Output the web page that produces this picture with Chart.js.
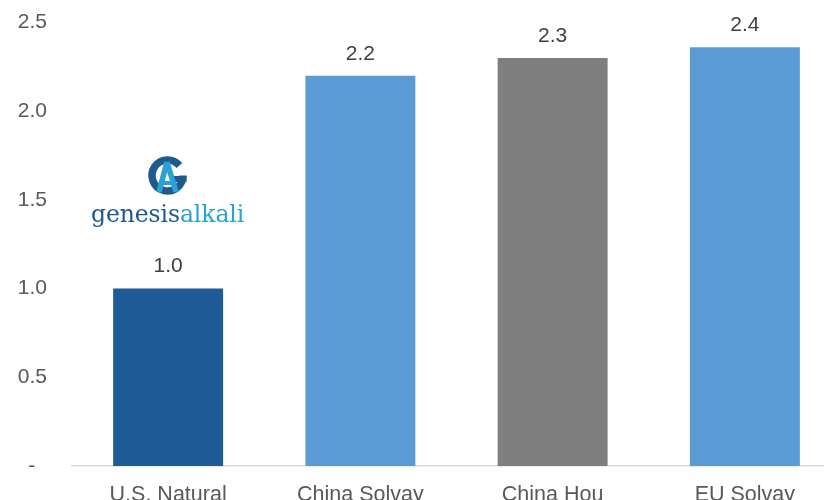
<!DOCTYPE html>
<html>
<head>
<meta charset="utf-8">
<script src="https://cdn.jsdelivr.net/npm/chart.js@4.4.1/dist/chart.umd.min.js"></script>
<style>
  html, body { margin: 0; padding: 0; background: #fff; }
  #wrap { position: relative; width: 824px; height: 500px; overflow: hidden; }
  #chart { position: absolute; left: 0; top: 0; }
  #logoIcon { position: absolute; left: 140px; top: 152px; }
  #logoText {
    position: absolute; left: 91px; top: 199px;
    font-family: "DejaVu Serif", "Liberation Serif", serif; font-size: 23.5px;
    line-height: 30px; letter-spacing: -0.1px; white-space: nowrap;
  }
  #logoText .g { color: #1E5A8C; }
  #logoText .a { color: #2BA1DA; }
</style>
</head>
<body>
<div id="wrap">
  <canvas id="chart" width="841" height="520" style="width:841px;height:520px"></canvas>
  <svg id="logoIcon" width="60" height="50" viewBox="0 0 60 50">
    <path d="M 39.4 13.5 A 15.5 15.5 0 1 0 43 23.5" fill="none" stroke="#1E5A8C" stroke-width="7.5"/>
    <rect x="32" y="24" width="14.5" height="6" fill="#1E5A8C"/>
    <path d="M 27 10 L 19 40 M 27 10 L 36 40" fill="none" stroke="#2BA1DA" stroke-width="5.5"/>
    <rect x="21" y="29" width="12" height="4" fill="#2BA1DA"/>
  </svg>
  <div id="logoText"><span class="g">genesis</span><span class="a">alkali</span></div>
</div>
<script>
// Chart values.
const categories = ['U.S. Natural', 'China Solvay', 'China Hou', 'EU Solvay'];
const costIndex = [1.0, 2.2, 2.3, 2.36];
const yTicks = [0, 0.5, 1.0, 1.5, 2.0, 2.5];

const barColors = ['#1F5B96', '#5B9BD5', '#7F7F7F', '#5B9BD5'];
const FONT = '"Liberation Sans", Arial, sans-serif';

// Draws the value above each bar (one decimal, like the source).
const valueLabels = {
    id: 'valueLabels',
    afterDatasetsDraw(chart) {
        const ctx = chart.ctx;
        const meta = chart.getDatasetMeta(0);
        ctx.save();
        ctx.font = '21px ' + FONT;
        ctx.fillStyle = '#404040';
        ctx.textAlign = 'center';
        ctx.textBaseline = 'middle';
        meta.data.forEach((bar, i) => {
            ctx.fillText(costIndex[i].toFixed(1), bar.x, bar.y - 22);
        });
        ctx.restore();
    }
};

new Chart(document.getElementById('chart'), {
    type: 'bar',
    data: {
        labels: categories,
        datasets: [{
            data: costIndex,
            backgroundColor: barColors,
            borderWidth: 0,
            barPercentage: 0.572,
            categoryPercentage: 1.0,
        }],
    },
    options: {
        responsive: false,
        animation: false,
        devicePixelRatio: 1,
        layout: { padding: { top: 22.5, right: 0, bottom: 0, left: 0 } },
        plugins: {
            legend: { display: false },
            tooltip: { enabled: false },
        },
        scales: {
            x: {
                grid: { display: false, drawTicks: false },
                border: { color: '#D9D9D9', width: 1.5 },
                ticks: { color: '#595959', font: { family: FONT, size: 21.5 }, padding: 16, maxRotation: 0 },
                afterFit: (scale) => { scale.height = 54; },
            },
            y: {
                min: 0,
                max: 2.5,
                afterBuildTicks: (scale) => { scale.ticks = yTicks.map(v => ({ value: v })); },
                grid: { display: false, drawTicks: false },
                border: { display: false },
                ticks: {
                    color: '#595959',
                    font: { family: FONT, size: 21 },
                    padding: 25,
                    callback: (v) => v === 0 ? '-  ' : v.toFixed(1),
                },
                // fixed width; drop the label padding so the top sits where the layout says
                afterFit: (scale) => {
                    scale.width = 72;
                    scale.paddingTop = 0;
                    scale.paddingBottom = 0;
                },
            },
        },
    },
    plugins: [valueLabels],
});
</script>
</body>
</html>
